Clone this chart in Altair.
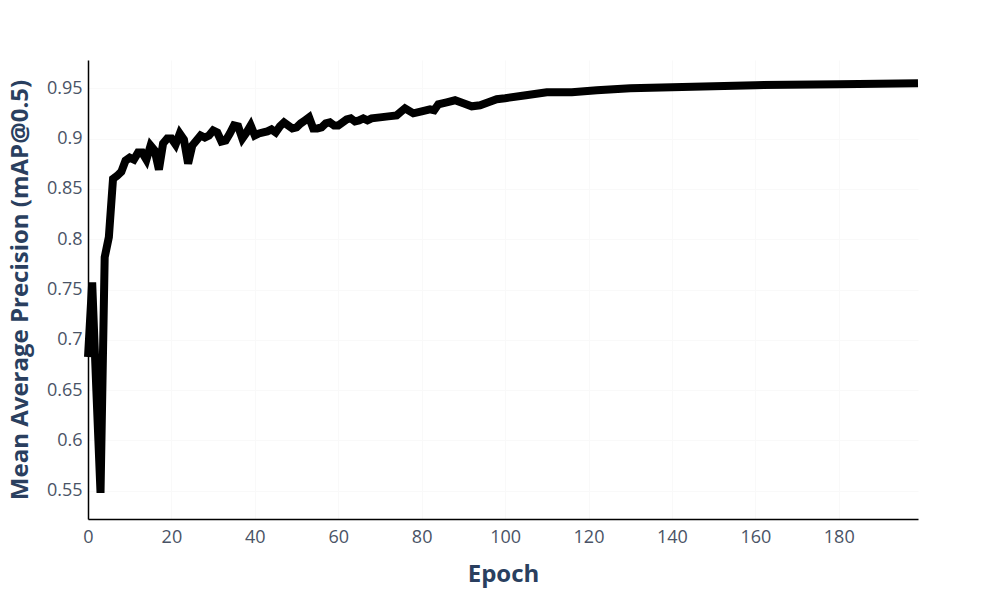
import altair as alt
import pandas as pd

epochs = list(range(0, 69)) + [70, 72, 74, 76, 78, 80, 82, 83, 84, 86, 88, 90, 92, 94, 96, 98,
                               100, 105, 110, 116, 122, 130, 140, 160, 180, 199]
map50 = [0.683, 0.757, 0.650, 0.548, 0.782, 0.802, 0.860, 0.863, 0.867, 0.878,
         0.881, 0.879, 0.886, 0.886, 0.879, 0.893, 0.888, 0.869, 0.895, 0.900,
         0.900, 0.894, 0.905, 0.899, 0.875, 0.893, 0.898, 0.903, 0.901, 0.903,
         0.908, 0.906, 0.897, 0.898, 0.905, 0.913, 0.912, 0.900, 0.906, 0.913,
         0.903, 0.905, 0.906, 0.907, 0.909, 0.906, 0.912, 0.916, 0.913, 0.910,
         0.911, 0.915, 0.918, 0.921, 0.910, 0.910, 0.911, 0.915, 0.916, 0.913,
         0.913, 0.916, 0.919, 0.920, 0.917, 0.918, 0.920, 0.918, 0.920,
         0.921, 0.922, 0.923, 0.930, 0.925, 0.927, 0.929, 0.928, 0.934, 0.936,
         0.938, 0.935, 0.932, 0.933, 0.936, 0.939,
         0.940, 0.943, 0.946, 0.946, 0.948, 0.950, 0.951, 0.953, 0.954, 0.955]

x_ticks = [0, 20, 40, 60, 80, 100, 120, 140, 160, 180]
y_ticks = [0.55, 0.6, 0.65, 0.7, 0.75, 0.8, 0.85, 0.9, 0.95]

df = pd.DataFrame({"epoch": epochs, "map": map50})

font = "Open Sans"
label_color = "#4a5366"

chart = alt.Chart(df).mark_line(color="#000000", strokeWidth=8, strokeCap="butt").encode(
    x=alt.X("epoch:Q", scale=alt.Scale(domain=[0, 199], nice=False, zero=False),
            axis=alt.Axis(title="Epoch", values=x_ticks, format="d", grid=True,
                          gridColor="#f9f9f9", domainColor="#000000", domainWidth=1.5,
                          ticks=False, labelPadding=9, labelFontSize=18, labelColor=label_color,
                          labelFlush=False, labelOverlap=False,
                          labelFont=font, titleFont=font, titleFontSize=24,
                          titleFontWeight="bold", titleColor="#2a3f5f", titlePadding=16)),
    y=alt.Y("map:Q", scale=alt.Scale(domain=[0.522, 0.978], nice=False, zero=False),
            axis=alt.Axis(title="Mean Average Precision (mAP@0.5)", values=y_ticks,
                          labelExpr="format(datum.value, '~g')", grid=True,
                          gridColor="#f9f9f9", domainColor="#000000", domainWidth=1.5,
                          ticks=False, labelPadding=6, labelFontSize=18, labelColor=label_color,
                          labelFlush=False, labelOverlap=False,
                          labelFont=font, titleFont=font, titleFontSize=24,
                          titleFontWeight="bold", titleColor="#2a3f5f", titlePadding=14)),
).properties(
    width=830, height=459,
    autosize=alt.AutoSizeParams(type="none"),
    padding={"left": 80, "top": 52, "right": 74, "bottom": 73},
    background="white",
).configure_view(stroke=None)

chart.save("out.html", embed_options={"renderer": "svg", "actions": False})
